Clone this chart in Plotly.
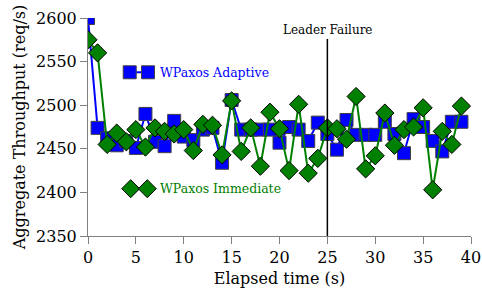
import plotly.graph_objects as go

elapsed = list(range(40))
adaptive = [2600, 2474, 2462, 2454, 2459, 2451, 2490, 2458, 2453, 2482,
            2464, 2460, 2472, 2474, 2434, 2506, 2472, 2472, 2472, 2472,
            2457, 2475, 2472, 2459, 2480, 2467, 2449, 2483, 2466, 2466,
            2466, 2481, 2467, 2445, 2484, 2475, 2459, 2447, 2481, 2481]
immediate = [2575, 2560, 2455, 2468, 2458, 2472, 2452, 2474, 2470, 2467,
             2472, 2448, 2478, 2477, 2443, 2505, 2447, 2474, 2430, 2492,
             2473, 2425, 2501, 2422, 2439, 2474, 2473, 2461, 2510, 2427,
             2442, 2491, 2454, 2472, 2475, 2497, 2403, 2470, 2455, 2499]
failure_time = 25
x_ticks = [0, 5, 10, 15, 20, 25, 30, 35, 40]
y_ticks = [2350, 2400, 2450, 2500, 2550, 2600]

BLUE = "#0000FF"
GREEN = "#008000"
FONT = "DejaVu Serif"

fig = go.Figure()
fig.add_trace(go.Scatter(
    x=elapsed, y=adaptive, mode="lines+markers", name="WPaxos Adaptive",
    line=dict(color=BLUE, width=2),
    marker=dict(symbol="square", size=13, color=BLUE,
                line=dict(color="#404040", width=1)),
))
fig.add_trace(go.Scatter(
    x=elapsed, y=immediate, mode="lines+markers", name="WPaxos Immediate",
    line=dict(color=GREEN, width=2),
    marker=dict(symbol="diamond", size=14, color=GREEN,
                line=dict(color="#000000", width=1)),
))

shapes = []
# Leader failure line
shapes.append(dict(type="line", xref="x", yref="paper", x0=failure_time, x1=failure_time,
                   y0=0, y1=0.904, line=dict(color="black", width=1.5)))

# Legend samples (decorative key)
def sq(xp, yp):
    return dict(type="rect", xref="paper", yref="paper", xsizemode="pixel", ysizemode="pixel",
                xanchor=xp, yanchor=yp, x0=-6.5, x1=6.5, y0=-6.5, y1=6.5,
                fillcolor=BLUE, line=dict(color="#404040", width=1))

def dia(xp, yp):
    return dict(type="path", xref="paper", yref="paper", xsizemode="pixel", ysizemode="pixel",
                xanchor=xp, yanchor=yp, path="M -9 0 L 0 9 L 9 0 L 0 -9 Z",
                fillcolor=GREEN, line=dict(color="#000000", width=1))

shapes.append(dict(type="line", xref="paper", yref="paper", x0=0.1089, x1=0.1567,
                   y0=0.751, y1=0.751, line=dict(color=BLUE, width=2)))
shapes.append(sq(0.1089, 0.751))
shapes.append(sq(0.1567, 0.751))
shapes.append(dia(0.1115, 0.217))
shapes.append(dia(0.1548, 0.217))

annotations = [
    dict(text="Leader Failure", x=failure_time, xref="x", y=1.0, yref="paper",
         yanchor="middle", yshift=-12, showarrow=False,
         font=dict(family=FONT, size=12, color="black")),
    dict(text="WPaxos Adaptive", x=0.184, xref="paper", y=0.751, yref="paper",
         xanchor="left", yanchor="middle", showarrow=False,
         font=dict(family=FONT, size=12.5, color=BLUE)),
    dict(text="WPaxos Immediate", x=0.182, xref="paper", y=0.217, yref="paper",
         xanchor="left", yanchor="middle", showarrow=False,
         font=dict(family=FONT, size=12.5, color=GREEN)),
]

fig.update_layout(
    width=482, height=299,
    margin=dict(l=88, r=11, t=18, b=63, autoexpand=False),
    plot_bgcolor="white", paper_bgcolor="white",
    showlegend=False,
    shapes=shapes, annotations=annotations,
    font=dict(family=FONT, size=16, color="black"),
)
fig.update_xaxes(
    range=[0, 40], tickvals=x_ticks, showgrid=False, zeroline=False,
    showline=True, linecolor="#808080", linewidth=1, automargin=False,
    ticks="outside", ticklen=7, tickcolor="#808080",
    tickfont=dict(family=FONT, size=16),
    title=dict(text="Elapsed time (s)", font=dict(family=FONT, size=16), standoff=6),
)
fig.update_yaxes(
    range=[2350, 2600], tickvals=y_ticks, showgrid=False, zeroline=False,
    showline=True, linecolor="#808080", linewidth=1, automargin=False,
    ticks="outside", ticklen=7, tickcolor="#808080",
    tickfont=dict(family=FONT, size=16),
    title=dict(text="Aggregate Throughput (req/s)", font=dict(family=FONT, size=16), standoff=6),
)

fig.write_html("out.html")
